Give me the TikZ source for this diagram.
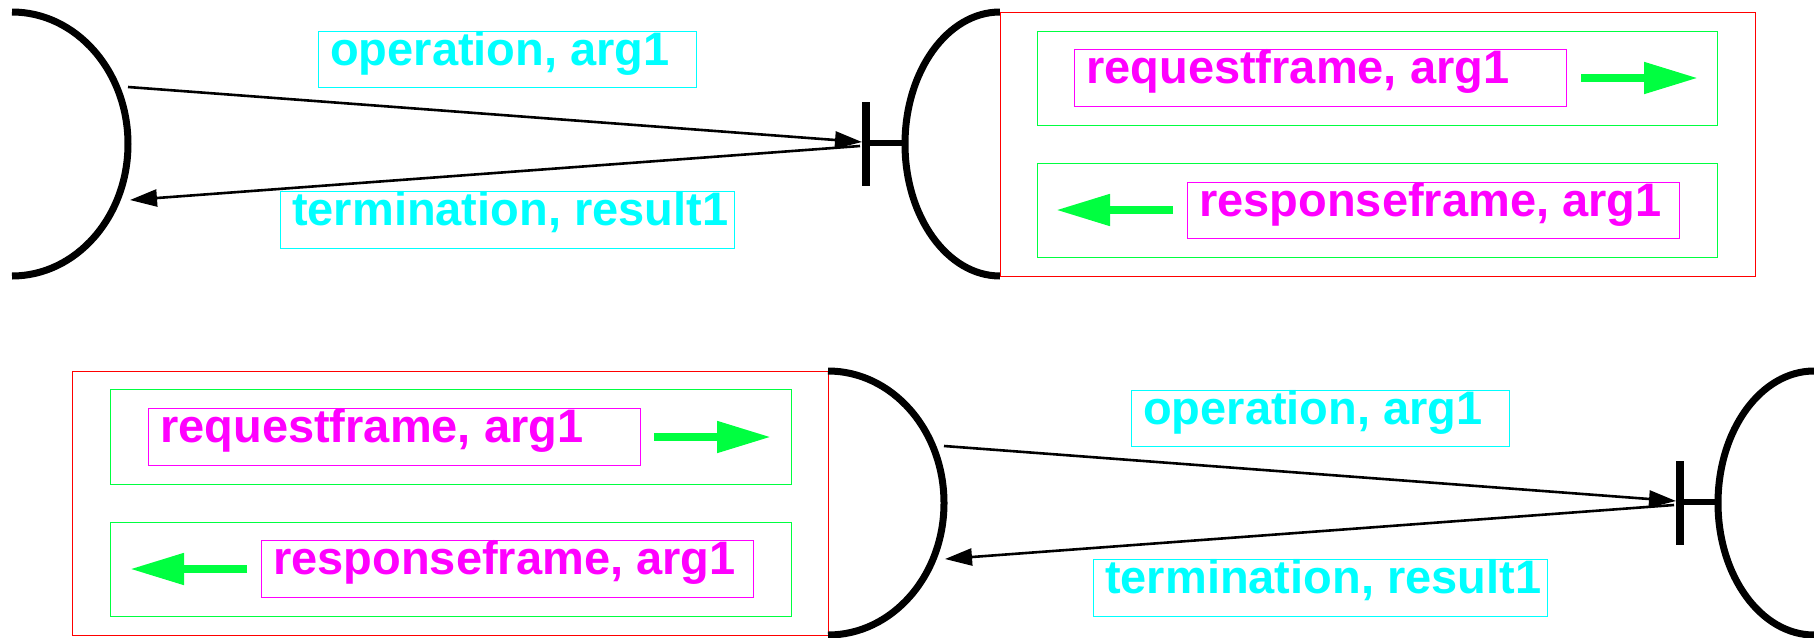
\documentclass[tikz,border=0pt]{standalone}
\usepackage{fontspec}
\setmainfont{Liberation Sans}
\usetikzlibrary{arrows.meta}

\definecolor{fgreen}{RGB}{0,255,64}
\definecolor{fcyan}{RGB}{0,255,255}
\definecolor{fmagenta}{RGB}{255,0,255}
\definecolor{fred}{RGB}{255,0,0}

\tikzset{
  endpoint/.style={line width=7pt},
  boxframe/.style={draw, line width=1.4pt, inner sep=0pt, anchor=north west},
  redframe/.style={boxframe, draw=fred},
  greenframe/.style={boxframe, draw=fgreen},
  magframe/.style={boxframe, draw=fmagenta},
  cyanframe/.style={boxframe, draw=fcyan},
  lbl/.style={anchor=base west, inner sep=0pt, font=\bfseries\fontsize{47}{50}\selectfont},
  cyanlbl/.style={lbl, text=fcyan},
  maglbl/.style={lbl, text=fmagenta},
  msg/.style={line width=2.6pt, -{Triangle[length=27pt,width=17pt]}},
  flow/.style={color=fgreen, line width=8pt, -{Triangle[length=54pt,width=30pt]}},
  bar/.style={line width=8pt},
  stub/.style={line width=6.5pt},
}

\begin{document}
\begin{tikzpicture}[x=1pt, y=-1pt]
\useasboundingbox (0,0) rectangle (1814,637);

% ---------------- upper row ----------------
% caller end (right half of an ellipse)
\coordinate (L1top) at (12,12);
\draw[endpoint] (L1top) arc[start angle=90, end angle=-90, x radius=116pt, y radius=132pt];
\coordinate (L1out) at (128,87);
\coordinate (L1in)  at (130,200);

% callee end (left half of an ellipse) with its port
\coordinate (R1top) at (1000,12);
\draw[endpoint] (R1top) arc[start angle=90, end angle=270, x radius=95pt, y radius=132pt];
\coordinate (R1left) at (905,143);
\coordinate (T1a) at (866,102);
\coordinate (T1b) at (866,186);
\coordinate (T1)  at (866,143);
\draw[bar] (T1a) -- (T1b);
\draw[stub] (T1) -- (R1left);
\coordinate (T1in)   at (862,142);
\coordinate (T1back) at (860,146);

% messages
\draw[msg] (L1out) -- (T1in);
\draw[msg] (T1back) -- (L1in);
\node[cyanframe, minimum width=378pt, minimum height=56pt] (op1) at (318,31) {};
\node[cyanlbl] (op1t) at (330,65) {operation, arg1};
\node[cyanframe, minimum width=454pt, minimum height=57pt] (tm1) at (280,191) {};
\node[cyanlbl] (tm1t) at (292,225) {termination, result1};

% frames of the callee
\node[redframe, minimum width=755pt, minimum height=264pt] (rf1) at (1000,12) {};
\node[greenframe, minimum width=680pt, minimum height=94pt] (gq1) at (1037,31) {};
\node[greenframe, minimum width=680pt, minimum height=94pt] (gr1) at (1037,163) {};
\node[magframe, minimum width=492pt, minimum height=57pt] (mq1) at (1074,49) {};
\node[maglbl] (mq1t) at (1086,83) {requestframe, arg1};
\node[magframe, minimum width=492pt, minimum height=56pt] (mr1) at (1187,182) {};
\node[maglbl] (mr1t) at (1199,216) {responseframe, arg1};
\coordinate (fq1s) at (1581,78);
\coordinate (fq1e) at (1698,78);
\draw[flow] (fq1s) -- (fq1e);
\coordinate (fr1s) at (1173,210);
\coordinate (fr1e) at (1056,210);
\draw[flow] (fr1s) -- (fr1e);

% ---------------- lower row ----------------
% frames of the caller
\node[redframe, minimum width=756pt, minimum height=264pt] (rf2) at (72,371) {};
\node[greenframe, minimum width=681pt, minimum height=95pt] (gq2) at (110,389) {};
\node[greenframe, minimum width=681pt, minimum height=94pt] (gr2) at (110,522) {};
\node[magframe, minimum width=492pt, minimum height=57pt] (mq2) at (148,408) {};
\node[maglbl] (mq2t) at (160,442) {requestframe, arg1};
\node[magframe, minimum width=492pt, minimum height=57pt] (mr2) at (261,540) {};
\node[maglbl] (mr2t) at (273,574) {responseframe, arg1};
\coordinate (fq2s) at (654,437);
\coordinate (fq2e) at (771,437);
\draw[flow] (fq2s) -- (fq2e);
\coordinate (fr2s) at (247,569);
\coordinate (fr2e) at (130,569);
\draw[flow] (fr2s) -- (fr2e);

% caller end
\coordinate (L2top) at (828,371);
\draw[endpoint] (L2top) arc[start angle=90, end angle=-90, x radius=116pt, y radius=132pt];
\coordinate (L2out) at (944,446);
\coordinate (L2in)  at (945,559);

% callee end with its port
\coordinate (R2top) at (1814,371);
\draw[endpoint] (R2top) arc[start angle=90, end angle=270, x radius=96pt, y radius=132pt];
\coordinate (R2left) at (1718,502);
\coordinate (T2a) at (1680,461);
\coordinate (T2b) at (1680,545);
\coordinate (T2)  at (1680,502);
\draw[bar] (T2a) -- (T2b);
\draw[stub] (T2) -- (R2left);
\coordinate (T2in)   at (1676,501);
\coordinate (T2back) at (1674,505);

% messages
\draw[msg] (L2out) -- (T2in);
\draw[msg] (T2back) -- (L2in);
\node[cyanframe, minimum width=378pt, minimum height=56pt] (op2) at (1131,390) {};
\node[cyanlbl] (op2t) at (1143,424) {operation, arg1};
\node[cyanframe, minimum width=454pt, minimum height=57pt] (tm2) at (1093,559) {};
\node[cyanlbl] (tm2t) at (1105,593) {termination, result1};
\end{tikzpicture}
\end{document}
